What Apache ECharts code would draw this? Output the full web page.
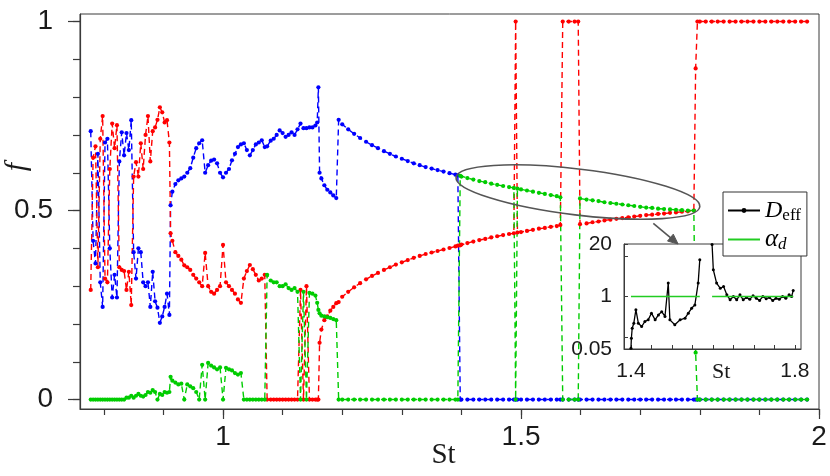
<!DOCTYPE html>
<html>
<head>
<meta charset="utf-8">
<script src="https://cdn.jsdelivr.net/npm/echarts@6/dist/echarts.min.js"></script>
<style>html,body{margin:0;padding:0;background:#fff}#c{width:830px;height:476px}</style>
</head>
<body>
<div id="c"></div>
<script>
// ---------- main panel data: St grid and the three fractions f ----------
const st = [
  // chaotic region
  0.778,0.782,0.786,0.790,0.794,0.798,0.802,0.806,0.810,0.814,0.818,0.822,0.826,0.830,0.834,0.838,0.842,0.846,0.850,0.854,0.858,0.862,0.866,0.870,0.874,0.878,0.882,0.886,0.890,0.894,0.898,0.902,0.906,0.910,0.912,
  // 0.915 - 1.07
  0.915,0.920,0.925,0.930,0.935,0.940,0.945,0.950,0.955,0.960,0.965,0.970,0.975,0.980,0.985,0.990,0.995,1.000,1.005,1.010,1.015,1.020,1.025,1.030,1.035,1.040,1.045,1.050,1.055,1.060,1.065,1.070,
  // 1.074 - 1.19
  1.074,1.080,1.085,1.090,1.095,1.100,1.105,1.110,1.115,1.120,1.125,1.130,1.135,1.140,1.145,1.150,1.155,1.158,1.160,1.162,1.165,1.170,1.175,1.180,1.185,1.190,
  // 1.194 - 1.398
  1.194,1.20,1.21,1.22,1.23,1.24,1.25,1.26,1.27,1.28,1.29,1.30,1.31,1.32,1.33,1.34,1.35,1.36,1.37,1.38,1.39,1.394,1.398,
  // 1.40 - 1.98
  1.40,1.41,1.42,1.43,1.44,1.45,1.46,1.47,1.48, 1.488,1.491,1.494, 1.50,1.51,1.52,1.53,1.54,1.55,1.56, 1.566,1.57,1.58,1.59,1.596,1.599,
  1.61,1.62,1.63,1.64,1.65,1.66,1.67,1.68,1.69,1.70,1.71,1.72,1.73,1.74,1.75,1.76,1.77,1.78,1.79, 1.793,1.796,
  1.80,1.81,1.82,1.83,1.84,1.85,1.86,1.87,1.88,1.89,1.90,1.91,1.92,1.93,1.94,1.95,1.96,1.97,1.98
];
const fBlue = [
  0.71,0.42,0.36,0.65,0.31,0.245,0.68,0.69,0.40,0.27,0.33,0.27,0.63,0.707,0.646,0.705,0.66,0.739,0.39,0.32,0.40,0.39,0.31,0.30,0.31,0.245,0.338,0.26,0.243,0.203,0.22,0.245,0.28,0.224,0.514,
  0.55,0.57,0.58,0.585,0.59,0.60,0.612,0.64,0.665,0.678,0.686,0.60,0.62,0.632,0.635,0.625,0.60,0.588,0.60,0.61,0.633,0.65,0.668,0.675,0.678,0.66,0.646,0.66,0.675,0.68,0.686,0.668,
  0.67,0.685,0.69,0.70,0.712,0.705,0.695,0.70,0.707,0.70,0.715,0.73,0.718,0.718,0.72,0.72,0.725,0.733,0.826,0.60,0.585,0.567,0.555,0.548,0.54,0.533,
  0.74,0.728,0.715,0.703,0.692,0.682,0.673,0.665,0.657,0.650,0.643,0.637,0.631,0.625,0.620,0.615,0.611,0.607,0.603,0.599,0.595,0.593,0,
  0,0,0,0,0,0,0,0,0, 0,0,0, 0,0,0,0,0,0,0, 0,0,0,0,0,0,
  0,0,0,0,0,0,0,0,0,0,0,0,0,0,0,0,0,0,0, 0,0,
  0,0,0,0,0,0,0,0,0,0,0,0,0,0,0,0,0,0,0
];
const fRed = [
  0.29,0.64,0.67,0.35,0.69,0.75,0.32,0.31,0.61,0.73,0.665,0.726,0.35,0.343,0.34,0.29,0.338,0.25,0.59,0.628,0.59,0.678,0.61,0.70,0.75,0.63,0.71,0.72,0.74,0.773,0.76,0.733,0.739,0.68,0.44,
  0.42,0.39,0.38,0.37,0.355,0.35,0.343,0.33,0.32,0.31,0.30,0.388,0.30,0.285,0.28,0.29,0.30,0.409,0.31,0.30,0.29,0.28,0.265,0.256,0.32,0.34,0.356,0.345,0.33,0.315,0.32,0.33,
  0,0,0,0,0,0,0,0,0,0,0,0.29,0,0.30,0,0,0,0,0,0.15,0.185,0.21,0.22,0.235,0.245,0.255,
  0.258,0.272,0.285,0.297,0.308,0.318,0.327,0.335,0.343,0.35,0.357,0.363,0.369,0.375,0.38,0.385,0.389,0.393,0.397,0.401,0.405,0.407,0.408,
  0.41,0.414,0.418,0.422,0.425,0.429,0.432,0.435,0.438, 0.44,1,0.442, 0.443,0.446,0.449,0.452,0.454,0.457,0.459, 0.462,1,1,1,1,0.464,
  0.466,0.469,0.471,0.474,0.476,0.478,0.48,0.482,0.484,0.486,0.488,0.489,0.491,0.492,0.494,0.495,0.497,0.498,0.50, 0.876,1,
  1,1,1,1,1,1,1,1,1,1,1,1,1,1,1,1,1,1,1
];
const fGreen = [
  0,0,0,0,0,0,0,0,0,0,0,0,0,0,0,0.005,0.005,0.01,0.005,0.01,0.015,0.01,0.008,0.012,0.02,0.018,0.025,0.02,0,0.015,0.012,0.02,0.018,0.02,0.06,
  0.05,0.045,0.04,0.042,0,0.04,0.035,0.03,0.02,0,0.092,0,0.097,0.09,0.085,0.08,0.085,0,0.084,0.08,0.077,0.07,0.066,0.07,0,0,0,0,0,0,0,0,
  0.33,0.315,0.31,0.31,0.30,0.30,0.305,0.295,0.29,0.295,0.285,0,0.285,0,0.282,0.28,0.275,0.256,0.237,0.228,0.222,0.22,0.218,0.216,0.213,0.21,
  0,0,0,0,0,0,0,0,0,0,0,0,0,0,0,0,0,0,0,0,0,0,0.592,
  0.59,0.586,0.582,0.578,0.575,0.571,0.568,0.565,0.562, 0.56,0,0.558, 0.556,0.553,0.55,0.547,0.544,0.541,0.538, 0.535,0,0,0,0,0.532,
  0.529,0.527,0.525,0.522,0.52,0.518,0.516,0.514,0.512,0.51,0.508,0.507,0.505,0.504,0.503,0.502,0.501,0.50,0.50, 0.124,0,
  0,0,0,0,0,0,0,0,0,0,0,0,0,0,0,0,0,0,0
];

// ---------- inset data ----------
const insetSt = [
  1.400,1.401,1.403,1.407,1.412,1.418,1.426,1.434,1.442,1.450,1.459,1.467,1.475,1.483,1.491,1.495,1.507,1.520,1.532,1.540,1.548,1.556,1.564,1.568,
  1.583,
  1.598,1.601,1.609,1.618,1.626,1.634,1.642,1.650,1.658,1.666,1.674,1.682,1.690,1.698,1.706,1.714,1.722,1.730,1.738,1.746,1.754,1.762,1.770,1.778,1.786,1.792,1.796
];
const dEff = [
  0.052,0.092,0.164,0.218,0.47,0.218,0.18,0.24,0.264,0.386,0.264,0.35,0.42,0.32,2.15,0.264,0.20,0.264,0.29,0.386,0.51,0.62,2.15,8.2,
  null,
  19.3,4.6,2.15,1.6,1.77,1.1,0.83,1.0,0.83,1.1,0.83,0.95,0.85,1.05,0.9,0.8,1.0,0.88,0.95,0.8,0.9,0.85,1.0,0.9,1.1,1.0,1.4
];
const alphaD = [
  1,1,1,1,1,1,1,1,1,1,1,1,1,1,1,1,1,1,1,1,1,1,1,1,
  null,
  1,1,1,1,1,1,1,1,1,1,1,1,1,1,1,1,1,1,1,1,1,1,1,1,1,1,1
];

// ---------- ticks / labels ----------
const xTickMinor = [0.8,0.9,1.0,1.1,1.2,1.3,1.4,1.5,1.6,1.7,1.8,1.9,2.0];
const xTickMajor = [1, 1.5, 2];
const yTickMinor = [0,0.1,0.2,0.3,0.4,0.5,0.6,0.7,0.8,0.9,1.0];
const yTickMajor = [0, 0.5, 1];
const insetXTicks = [1.4,1.45,1.5,1.55,1.6,1.65,1.7,1.75,1.8];
const insetXLabels = [1.4, 1.62, 1.8];

// annotation anchors (data coordinates)
const ellipseEnds = [[1.391, 0.588], [1.800, 0.510]];
const arrowFrom = [1.722, 0.466];
const arrowTo = [1.515, 20];
const xNameAt = [1.37, -0.148];   // position of the "St" axis title
const yNameAt = [0.655, 0.615];   // position of the "f" axis title

const axisColor = '#3a3a3a';
const textColor = '#1a1a1a';
const sans = "'Liberation Sans', Arial, Helvetica, sans-serif";
const serif = "'Liberation Serif', 'Times New Roman', serif";
const cBlue = '#0000ff', cRed = '#ff0000', cGreen = '#00cc00';

function mainSeries(name, vals, color) {
  return {
    type: 'line', name: name, xAxisIndex: 0, yAxisIndex: 0,
    data: st.map((x, i) => [x, vals[i]]),
    symbol: 'circle', symbolSize: 4.2, showAllSymbol: true,
    lineStyle: { color: color, width: 1.4, type: [6, 4] },
    itemStyle: { color: color },
    emphasis: { disabled: true },
    z: 2, silent: true
  };
}

const chart = echarts.init(document.getElementById('c'), null, { renderer: 'canvas' });

const option = {
  animation: false,
  backgroundColor: '#fff',
  grid: [
    { left: 80, top: 14, width: 739, height: 395, show: true, borderColor: axisColor, borderWidth: 1, outerBoundsMode: 'none', containLabel: false },
    { left: 624, top: 244, width: 177, height: 105, show: true, backgroundColor: '#fff', borderColor: axisColor, borderWidth: 1, z: 5, outerBoundsMode: 'none', containLabel: false }
  ],
  xAxis: [
    { type: 'value', gridIndex: 0, min: 0.76, max: 2.0, position: 'bottom',
      axisLine: { onZero: false, lineStyle: { color: axisColor, width: 1.2 } },
      axisTick: { length: 10, customValues: xTickMajor, lineStyle: { color: axisColor, width: 1.2 } },
      axisLabel: { customValues: xTickMajor, formatter: v => String(v), fontSize: 28, fontFamily: sans, color: textColor, margin: 14 },
      splitLine: { show: false } },
    { type: 'value', gridIndex: 0, min: 0.76, max: 2.0, position: 'bottom',
      axisLine: { show: false, onZero: false },
      axisTick: { length: 6, customValues: xTickMinor, lineStyle: { color: axisColor, width: 1.2 } },
      axisLabel: { show: false }, splitLine: { show: false } },
    { type: 'value', gridIndex: 1, min: 1.383, max: 1.815, position: 'bottom', z: 6,
      axisLine: { onZero: false, lineStyle: { color: axisColor, width: 1 } },
      axisTick: { inside: true, length: 4, customValues: insetXTicks, lineStyle: { color: axisColor } },
      axisLabel: { customValues: insetXLabels, fontSize: 21, fontFamily: sans, color: textColor, margin: 12,
        formatter: v => Math.abs(v - 1.62) < 1e-6 ? '{s|St}' : v.toFixed(1),
        rich: { s: { fontFamily: serif, fontSize: 22, color: textColor } } },
      splitLine: { show: false } }
  ],
  yAxis: [
    { type: 'value', gridIndex: 0, min: -0.025, max: 1.02, position: 'left',
      axisLine: { onZero: false, lineStyle: { color: axisColor, width: 1.2 } },
      axisTick: { length: 12, customValues: yTickMajor, lineStyle: { color: axisColor, width: 1.2 } },
      axisLabel: { customValues: yTickMajor, formatter: v => String(v), fontSize: 28, fontFamily: sans, color: textColor, margin: 27 },
      splitLine: { show: false } },
    { type: 'value', gridIndex: 0, min: -0.025, max: 1.02, position: 'left',
      axisLine: { show: false, onZero: false },
      axisTick: { length: 7, customValues: yTickMinor, lineStyle: { color: axisColor, width: 1.2 } },
      axisLabel: { show: false }, splitLine: { show: false } },
    { type: 'log', logBase: 10, gridIndex: 1, min: 0.05, max: 20, position: 'left', z: 6,
      axisLine: { onZero: false, lineStyle: { color: axisColor, width: 1 } },
      axisTick: { inside: true, length: 4, lineStyle: { color: axisColor } },
      axisLabel: { fontSize: 21, fontFamily: sans, color: textColor, margin: 12, showMinLabel: true, showMaxLabel: true,
        formatter: v => Math.abs(v - 1) < 1e-6 ? '1' : (Math.abs(v - 0.05) < 1e-6 ? '0.05' : (Math.abs(v - 20) < 1e-4 ? '20' : '')) },
      splitLine: { show: false } }
  ],
  legend: {
    data: [ { name: 'D_eff' }, { name: 'alpha_d', itemStyle: { opacity: 0 } } ],
    orient: 'vertical', left: 723, top: 192,
    padding: [5, 6, 3, 4], itemGap: 2, itemWidth: 32, itemHeight: 6,
    backgroundColor: '#fff', borderColor: '#333', borderWidth: 1, borderRadius: 0,
    z: 10, selectedMode: false,
    formatter: n => n === 'D_eff' ? '{i|D}{s|eff}' : '{a|α}{t|d}',
    textStyle: { color: '#000', rich: {
      i: { fontFamily: serif, fontStyle: 'italic', fontSize: 24, lineHeight: 24, color: '#000' },
      a: { fontFamily: serif, fontStyle: 'italic', fontSize: 25, lineHeight: 24, color: '#000' },
      s: { fontFamily: serif, fontSize: 17, lineHeight: 16, padding: [10, 0, 0, 0], color: '#000' },
      t: { fontFamily: serif, fontStyle: 'italic', fontSize: 17, lineHeight: 16, padding: [10, 0, 0, 0], color: '#000' }
    } }
  },
  series: [
    mainSeries('blue', fBlue, cBlue),
    mainSeries('red', fRed, cRed),
    mainSeries('green', fGreen, cGreen),
    { type: 'line', name: 'D_eff', xAxisIndex: 2, yAxisIndex: 2,
      data: insetSt.map((x, i) => [x, dEff[i]]),
      symbol: 'circle', symbolSize: 3, showAllSymbol: true, connectNulls: false,
      lineStyle: { color: '#000', width: 1.3 }, itemStyle: { color: '#000' },
      emphasis: { disabled: true }, z: 7, silent: true },
    { type: 'line', name: 'alpha_d', xAxisIndex: 2, yAxisIndex: 2,
      data: insetSt.map((x, i) => [x, alphaD[i]]),
      symbol: 'none', connectNulls: false,
      lineStyle: { color: '#22cc22', width: 1.6 }, itemStyle: { color: '#22cc22' },
      emphasis: { disabled: true }, z: 8, silent: true }
  ]
};
chart.setOption(option);

// annotations anchored to data coordinates
const P = v => chart.convertToPixel({ xAxisIndex: 0, yAxisIndex: 0 }, v);
const Q = v => chart.convertToPixel({ xAxisIndex: 2, yAxisIndex: 2 }, v);
const eA = P(ellipseEnds[0]), eB = P(ellipseEnds[1]);
const ecx = (eA[0] + eB[0]) / 2, ecy = (eA[1] + eB[1]) / 2;
const erx = Math.hypot(eB[0] - eA[0], eB[1] - eA[1]) / 2;
const erot = -Math.atan2(eB[1] - eA[1], eB[0] - eA[0]);
const T = P(arrowFrom), H = Q(arrowTo);
const L = Math.hypot(H[0] - T[0], H[1] - T[1]);
const dx = (H[0] - T[0]) / L, dy = (H[1] - T[1]) / L;
const hl = 10, hw = 4.5;
const bx = H[0] - dx * hl, by = H[1] - dy * hl;
const xn = P(xNameAt), yn = P(yNameAt);

chart.setOption({
  graphic: [
    { id: 'ylab', type: 'text', x: yn[0], y: yn[1], rotation: Math.PI / 2, z: 20,
      style: { text: 'f', fontFamily: serif, fontStyle: 'italic', fontSize: 30, fill: textColor, align: 'center', verticalAlign: 'middle' } },
    { id: 'xlab', type: 'text', x: xn[0], y: xn[1], z: 20,
      style: { text: 'St', fontFamily: serif, fontSize: 29, fill: textColor, align: 'center', verticalAlign: 'middle' } },
    { id: 'ell', type: 'ellipse', x: ecx, y: ecy, rotation: erot, z: 4, silent: true,
      shape: { cx: 0, cy: 0, rx: erx, ry: 23 },
      style: { fill: 'none', stroke: '#555', lineWidth: 1.6 } },
    { id: 'arrLine', type: 'line', z: 4, silent: true,
      shape: { x1: T[0], y1: T[1], x2: bx + dx * 2, y2: by + dy * 2 },
      style: { stroke: '#555', lineWidth: 1.6 } },
    { id: 'arrHead', type: 'polygon', z: 9, silent: true,
      shape: { points: [[H[0], H[1]], [bx - dy * hw, by + dx * hw], [bx + dy * hw, by - dx * hw]] },
      style: { fill: '#555', stroke: '#555', lineWidth: 1 } }
  ]
});
</script>
</body>
</html>
